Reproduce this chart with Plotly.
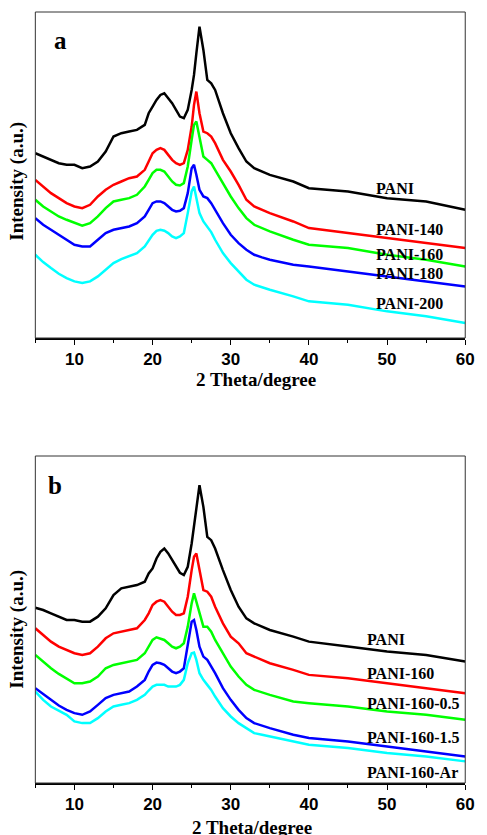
import plotly.graph_objects as go

W, H = 487, 835

# 2-theta positions (degree) at which the patterns were read
two_theta = [5, 6, 7, 8, 9, 10, 11, 12, 13, 14, 15, 16, 17, 18, 19, 19.5, 20, 20.5, 21, 21.5,
             22, 22.5, 23, 23.5, 24, 24.5, 25, 25.3, 25.6, 26, 26.5, 27, 27.5, 28, 29, 30, 31,
             32, 33, 34, 35, 38, 40, 45, 50, 55, 60]

# ---- panel a (intensity, a.u., stacked) ----
a_names = ["PANI", "PANI-140", "PANI-160", "PANI-180", "PANI-200"]
a_pani = [555, 545, 535, 525, 520, 520, 510, 515, 530, 560, 605, 615, 620, 625, 640, 675, 695, 715, 730, 735,
          720, 705, 685, 665, 660, 685, 745, 790, 855, 935, 865, 775, 765, 745, 675, 615, 570,
          530, 510, 500, 490, 470, 450, 440, 420, 410, 385]
a_140 = [475, 455, 435, 420, 405, 395, 390, 400, 425, 445, 460, 470, 480, 485, 505, 530, 555, 565, 570, 565,
         550, 535, 525, 520, 525, 565, 635, 700, 740, 675, 620, 615, 605, 585, 535, 500, 460,
         415, 395, 385, 375, 350, 330, 315, 300, 285, 270]
a_160 = [415, 395, 380, 365, 355, 345, 337, 345, 365, 390, 410, 415, 420, 430, 455, 475, 495, 505, 505, 500,
         485, 470, 460, 458, 465, 515, 595, 640, 650, 605, 545, 535, 525, 505, 465, 425, 390,
         360, 340, 330, 320, 295, 280, 270, 250, 235, 215]
a_180 = [360, 340, 325, 310, 295, 280, 275, 275, 295, 315, 325, 330, 335, 345, 365, 385, 405, 410, 410, 405,
         395, 385, 380, 382, 390, 435, 510, 520, 490, 445, 425, 420, 405, 385, 345, 310, 285,
         265, 250, 242, 235, 220, 215, 200, 185, 170, 155]
a_200 = [250, 228, 210, 193, 180, 170, 165, 170, 185, 205, 225, 237, 245, 255, 275, 292, 310, 322, 325, 322,
         315, 305, 300, 305, 315, 375, 440, 455, 420, 375, 350, 335, 318, 295, 255, 225, 200,
         175, 160, 152, 145, 125, 110, 100, 80, 65, 45]
a_label_y = [448, 325, 252, 195, 103]

# ---- panel b ----
b_names = ["PANI", "PANI-160", "PANI-160-0.5", "PANI-160-1.5", "PANI-160-Ar"]
b_pani = [527, 520, 510, 500, 490, 490, 485, 485, 500, 525, 565, 585, 590, 595, 605, 630, 645, 675, 695, 705,
          690, 670, 650, 632, 625, 650, 720, 770, 830, 895, 830, 740, 730, 705, 640, 580, 530,
          495, 480, 470, 460, 440, 425, 410, 395, 385, 365]
b_160 = [465, 445, 425, 410, 400, 390, 385, 390, 410, 435, 450, 455, 460, 465, 490, 510, 535, 545, 550, 545,
         530, 515, 505, 505, 510, 560, 640, 680, 690, 640, 580, 575, 560, 530, 480, 440, 420,
         390, 380, 370, 360, 340, 325, 315, 300, 285, 270]
b_05 = [385, 365, 345, 328, 315, 300, 300, 305, 320, 345, 355, 360, 365, 370, 390, 410, 430, 438, 435, 430,
        420, 410, 405, 410, 420, 470, 540, 570, 545, 510, 470, 470, 455, 430, 390, 350, 320,
        295, 280, 272, 265, 245, 240, 230, 215, 205, 190]
b_15 = [285, 268, 250, 233, 220, 210, 205, 215, 235, 255, 265, 270, 275, 290, 310, 335, 355, 362, 360, 355,
        345, 335, 330, 335, 345, 410, 485, 490, 460, 410, 380, 370, 350, 330, 285, 250, 220,
        195, 180, 172, 165, 145, 135, 125, 110, 95, 80]
b_ar = [275, 250, 230, 217, 205, 185, 180, 180, 195, 215, 230, 235, 240, 250, 265, 278, 290, 295, 295, 295,
        290, 290, 290, 295, 310, 360, 390, 392, 370, 330, 310, 295, 280, 260, 225, 200, 180,
        165, 150, 145, 140, 125, 115, 105, 90, 80, 65]
b_label_y = [430, 330, 240, 138, 33]

colors = ["#000000", "#ff0000", "#00ff00", "#0000ff", "#00ffff"]

x_ticks = [10, 20, 30, 40, 50, 60]
x_ticktext = ["<b>10</b>", "<b>20</b>", "<b>30</b>", "<b>40</b>", "<b>50</b>", "<b>60</b>"]

serif = "Liberation Serif"
sans = "Liberation Sans"

fig = go.Figure()
for name, ys, c in zip(a_names, [a_pani, a_140, a_160, a_180, a_200], colors):
    fig.add_trace(go.Scatter(x=two_theta, y=ys, mode="lines", name=name,
                             line=dict(color=c, width=2.5), xaxis="x", yaxis="y", showlegend=False))
for name, ys, c in zip(b_names, [b_pani, b_160, b_05, b_15, b_ar], colors):
    fig.add_trace(go.Scatter(x=two_theta, y=ys, mode="lines", name=name,
                             line=dict(color=c, width=2.5), xaxis="x2", yaxis="y2", showlegend=False))


def px_x(p):
    return p / W


def px_y(p):
    return 1 - p / H


dom_x = [px_x(36), px_x(474)]
dom_a = [px_y(338), px_y(12)]
dom_b = [px_y(783), px_y(456)]

xcommon = dict(range=[5, 60], tickvals=x_ticks, ticktext=x_ticktext, ticks="outside", ticklen=5,
               tickwidth=1.2, tickcolor="black", showline=True, linecolor="black", linewidth=1.5,
               showgrid=False, zeroline=False,
               tickfont=dict(family=sans, size=17, color="black"),
               minor=dict(dtick=5, tick0=0, ticks="outside", ticklen=3, tickwidth=1.2, tickcolor="black"))
ycommon = dict(showticklabels=False, ticks="", showgrid=False, zeroline=False, showline=False)

fig.update_layout(
    width=W, height=H, margin=dict(l=0, r=0, t=0, b=0),
    paper_bgcolor="white", plot_bgcolor="white",
    xaxis=dict(domain=dom_x, anchor="y", **xcommon),
    yaxis=dict(domain=dom_a, anchor="x", range=[0, 979], **ycommon),
    xaxis2=dict(domain=dom_x, anchor="y2", **xcommon),
    yaxis2=dict(domain=dom_b, anchor="x2", range=[0, 983], **ycommon),
)

shapes = []
for dom in (dom_a, dom_b):
    shapes.append(dict(type="rect", xref="paper", yref="paper", x0=dom_x[0], x1=dom_x[1],
                       y0=dom[0], y1=dom[1], line=dict(color="#333333", width=1)))
fig.update_layout(shapes=shapes)

ann = []
lab_font = dict(family=serif, size=16, color="black")
for t, yv in zip(a_names, a_label_y):
    ann.append(dict(x=48.3, y=yv, xref="x", yref="y", text="<b>" + t + "</b>", showarrow=False,
                    xanchor="left", yanchor="middle", font=lab_font))
for t, yv in zip(b_names, b_label_y):
    ann.append(dict(x=47.2, y=yv, xref="x2", yref="y2", text="<b>" + t + "</b>", showarrow=False,
                    xanchor="left", yanchor="middle", font=lab_font))

title_font = dict(family=serif, size=19, color="black")
ann.append(dict(x=px_x(261), y=px_y(379), xref="paper", yref="paper", text="<b>2 Theta/degree</b>",
                showarrow=False, xanchor="center", yanchor="middle", font=title_font))
ann.append(dict(x=px_x(257), y=px_y(827), xref="paper", yref="paper", text="<b>2 Theta/degree</b>",
                showarrow=False, xanchor="center", yanchor="middle", font=title_font))
ann.append(dict(x=px_x(17), y=px_y(181), xref="paper", yref="paper", text="<b>Intensity (a.u.)</b>",
                showarrow=False, xanchor="center", yanchor="middle", textangle=-90, font=title_font))
ann.append(dict(x=px_x(17), y=px_y(629), xref="paper", yref="paper", text="<b>Intensity (a.u.)</b>",
                showarrow=False, xanchor="center", yanchor="middle", textangle=-90, font=title_font))
panel_font = dict(family=serif, size=25, color="black")
ann.append(dict(x=px_x(62), y=px_y(41), xref="paper", yref="paper", text="<b>a</b>",
                showarrow=False, xanchor="center", yanchor="middle", font=panel_font))
ann.append(dict(x=px_x(56), y=px_y(485), xref="paper", yref="paper", text="<b>b</b>",
                showarrow=False, xanchor="center", yanchor="middle", font=panel_font))
fig.update_layout(annotations=ann)

fig.write_html("out.html", config={"displayModeBar": False},
               post_script="document.body.style.margin='0px';")
